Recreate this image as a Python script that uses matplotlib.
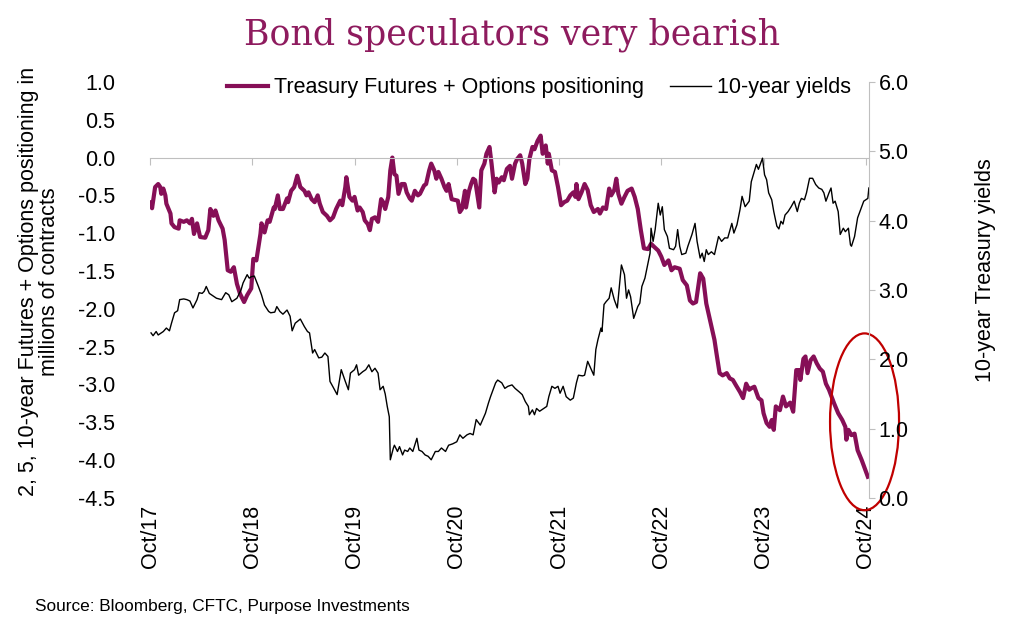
import matplotlib
matplotlib.use('Agg')
import matplotlib.pyplot as plt
import numpy as np
from matplotlib.patches import Ellipse

plt.rcParams['font.family'] = ['Liberation Sans', 'DejaVu Sans']
plt.rcParams['axes.unicode_minus'] = False

title = 'Bond speculators very bearish'
source = 'Source: Bloomberg, CFTC, Purpose Investments'
pos_name = 'Treasury Futures + Options positioning'
yld_name = '10-year yields'

# positioning, millions of contracts (time in decimal years)
pos_t = [2017.76, 2017.77, 2017.80, 2017.83, 2017.85, 2017.86, 2017.88, 2017.90, 2017.91, 2017.95,
         2017.96, 2017.99, 2018.03, 2018.04, 2018.08, 2018.11, 2018.14, 2018.16, 2018.18, 2018.21,
         2018.24, 2018.29, 2018.32, 2018.34, 2018.37, 2018.39, 2018.42, 2018.46, 2018.48, 2018.51,
         2018.54, 2018.57, 2018.60, 2018.63, 2018.67, 2018.70, 2018.74, 2018.76, 2018.79, 2018.83,
         2018.84, 2018.87, 2018.90, 2018.92, 2018.96, 2018.97, 2019.00, 2019.02, 2019.05, 2019.09,
         2019.10, 2019.13, 2019.16, 2019.19, 2019.22, 2019.26, 2019.28, 2019.30, 2019.33, 2019.36,
         2019.39, 2019.41, 2019.44, 2019.48, 2019.51, 2019.54, 2019.57, 2019.61, 2019.63, 2019.66,
         2019.67, 2019.70, 2019.73, 2019.75, 2019.78, 2019.80, 2019.83, 2019.85, 2019.88, 2019.90,
         2019.92, 2019.95, 2019.98, 2020.01, 2020.03, 2020.05, 2020.08, 2020.10, 2020.12, 2020.14,
         2020.16, 2020.18, 2020.21, 2020.24, 2020.26, 2020.29, 2020.31, 2020.34, 2020.37, 2020.39,
         2020.43, 2020.45, 2020.48, 2020.50, 2020.53, 2020.55, 2020.57, 2020.60, 2020.63, 2020.65,
         2020.67, 2020.70, 2020.73, 2020.76, 2020.78, 2020.80, 2020.83, 2020.84, 2020.87, 2020.89,
         2020.91, 2020.93, 2020.95, 2020.97, 2020.99, 2021.02, 2021.04, 2021.07, 2021.09, 2021.12,
         2021.14, 2021.16, 2021.19, 2021.21, 2021.24, 2021.27, 2021.29, 2021.32, 2021.34, 2021.37,
         2021.39, 2021.42, 2021.44, 2021.46, 2021.49, 2021.51, 2021.54, 2021.57, 2021.59, 2021.62,
         2021.64, 2021.65, 2021.68, 2021.71, 2021.74, 2021.77, 2021.80, 2021.83, 2021.86, 2021.89,
         2021.91, 2021.92, 2021.94, 2021.97, 2022.00, 2022.03, 2022.06, 2022.09, 2022.13, 2022.15,
         2022.18, 2022.21, 2022.24, 2022.26, 2022.29, 2022.31, 2022.33, 2022.36, 2022.39, 2022.42,
         2022.46, 2022.49, 2022.52, 2022.55, 2022.58, 2022.62, 2022.65, 2022.68, 2022.72, 2022.75,
         2022.78, 2022.82, 2022.85, 2022.88, 2022.93, 2022.96, 2023.00, 2023.03, 2023.06, 2023.09,
         2023.13, 2023.16, 2023.19, 2023.22, 2023.27, 2023.29, 2023.32, 2023.35, 2023.39, 2023.42,
         2023.45, 2023.48, 2023.52, 2023.55, 2023.58, 2023.61, 2023.63, 2023.66, 2023.70, 2023.73,
         2023.75, 2023.78, 2023.81, 2023.83, 2023.85, 2023.87, 2023.91, 2023.94, 2023.97, 2024.01,
         2024.04, 2024.07, 2024.10, 2024.11, 2024.14, 2024.16, 2024.18, 2024.21, 2024.24, 2024.27,
         2024.30, 2024.33, 2024.36, 2024.39, 2024.44, 2024.48, 2024.52, 2024.55, 2024.56, 2024.58,
         2024.61, 2024.64, 2024.67, 2024.71, 2024.74, 2024.77]
pos_v = [-0.59, -0.67, -0.39, -0.35, -0.39, -0.48, -0.41, -0.50, -0.61, -0.74,
         -0.87, -0.92, -0.94, -0.83, -0.85, -0.83, -0.87, -0.81, -1.01, -0.87,
         -1.05, -1.06, -0.96, -0.68, -0.77, -0.70, -0.83, -0.94, -1.09, -1.49,
         -1.51, -1.45, -1.67, -1.80, -1.91, -1.82, -1.73, -1.34, -1.36, -1.01,
         -0.87, -0.99, -0.83, -0.85, -0.66, -0.68, -0.50, -0.68, -0.68, -0.54,
         -0.59, -0.44, -0.39, -0.24, -0.39, -0.44, -0.50, -0.46, -0.55, -0.59,
         -0.50, -0.61, -0.72, -0.77, -0.83, -0.79, -0.68, -0.57, -0.63, -0.39,
         -0.26, -0.52, -0.57, -0.52, -0.70, -0.66, -0.72, -0.83, -0.88, -0.96,
         -0.81, -0.79, -0.85, -0.55, -0.59, -0.68, -0.52, -0.17, 0.00, -0.22,
         -0.24, -0.48, -0.35, -0.35, -0.46, -0.54, -0.57, -0.44, -0.50, -0.48,
         -0.37, -0.35, -0.17, -0.08, -0.17, -0.28, -0.19, -0.28, -0.39, -0.44,
         -0.35, -0.55, -0.56, -0.57, -0.72, -0.68, -0.44, -0.66, -0.44, -0.35,
         -0.28, -0.30, -0.48, -0.66, -0.17, -0.08, 0.05, 0.14, -0.08, -0.46,
         -0.28, -0.33, -0.26, -0.30, -0.15, -0.11, -0.28, -0.08, -0.02, 0.03,
         -0.08, -0.35, -0.28, -0.02, 0.14, 0.11, 0.22, 0.29, 0.05, 0.16,
         -0.08, 0.05, -0.17, -0.19, -0.39, -0.63, -0.59, -0.57, -0.50, -0.46,
         -0.52, -0.35, -0.55, -0.46, -0.35, -0.43, -0.63, -0.72, -0.68, -0.74,
         -0.66, -0.68, -0.41, -0.50, -0.43, -0.28, -0.48, -0.61, -0.52, -0.44,
         -0.41, -0.52, -0.68, -0.96, -1.20, -1.21, -1.14, -1.18, -1.23, -1.31,
         -1.42, -1.36, -1.49, -1.45, -1.47, -1.62, -1.69, -1.89, -1.93, -1.91,
         -1.53, -1.60, -1.93, -2.11, -2.41, -2.59, -2.85, -2.88, -2.85, -2.92,
         -2.94, -3.01, -3.10, -3.18, -2.99, -3.07, -3.05, -3.03, -3.18, -3.21,
         -3.38, -3.51, -3.56, -3.47, -3.60, -3.29, -3.34, -3.16, -3.29, -3.24,
         -3.36, -2.81, -2.81, -2.94, -2.66, -2.63, -2.85, -2.68, -2.63, -2.72,
         -2.79, -2.83, -2.99, -3.07, -3.25, -3.38, -3.47, -3.56, -3.73, -3.60,
         -3.67, -3.65, -3.87, -4.00, -4.11, -4.22]

# 10-year Treasury yield, %
yld_t = [2017.76, 2017.78, 2017.81, 2017.83, 2017.88, 2017.91, 2017.94, 2017.96, 2017.99, 2018.02,
         2018.04, 2018.08, 2018.11, 2018.14, 2018.17, 2018.21, 2018.23, 2018.26, 2018.28, 2018.30,
         2018.33, 2018.35, 2018.40, 2018.45, 2018.49, 2018.52, 2018.55, 2018.60, 2018.64, 2018.66,
         2018.70, 2018.72, 2018.74, 2018.77, 2018.81, 2018.84, 2018.87, 2018.91, 2018.93, 2018.97,
         2018.99, 2019.02, 2019.05, 2019.09, 2019.12, 2019.14, 2019.17, 2019.22, 2019.26, 2019.29,
         2019.31, 2019.34, 2019.36, 2019.40, 2019.43, 2019.46, 2019.49, 2019.51, 2019.54, 2019.58,
         2019.62, 2019.66, 2019.69, 2019.71, 2019.75, 2019.77, 2019.79, 2019.83, 2019.86, 2019.89,
         2019.92, 2019.95, 2019.98, 2020.00, 2020.03, 2020.05, 2020.07, 2020.09, 2020.10, 2020.13,
         2020.14, 2020.17, 2020.19, 2020.22, 2020.24, 2020.27, 2020.29, 2020.32, 2020.36, 2020.38,
         2020.41, 2020.44, 2020.47, 2020.50, 2020.54, 2020.57, 2020.60, 2020.64, 2020.67, 2020.71,
         2020.75, 2020.78, 2020.81, 2020.85, 2020.88, 2020.91, 2020.94, 2020.98, 2021.01, 2021.03,
         2021.06, 2021.08, 2021.11, 2021.13, 2021.15, 2021.19, 2021.22, 2021.25, 2021.29, 2021.32,
         2021.36, 2021.39, 2021.42, 2021.45, 2021.46, 2021.49, 2021.51, 2021.53, 2021.56, 2021.60,
         2021.63, 2021.65, 2021.68, 2021.71, 2021.74, 2021.76, 2021.79, 2021.82, 2021.86, 2021.89,
         2021.92, 2021.94, 2021.98, 2022.00, 2022.03, 2022.06, 2022.09, 2022.11, 2022.13, 2022.16,
         2022.17, 2022.19, 2022.21, 2022.24, 2022.26, 2022.29, 2022.32, 2022.34, 2022.36, 2022.39,
         2022.41, 2022.43, 2022.45, 2022.48, 2022.52, 2022.54, 2022.56, 2022.59, 2022.62, 2022.64,
         2022.65, 2022.67, 2022.69, 2022.72, 2022.74, 2022.76, 2022.78, 2022.81, 2022.83, 2022.87,
         2022.89, 2022.91, 2022.93, 2022.95, 2022.99, 2023.01, 2023.05, 2023.08, 2023.10, 2023.13,
         2023.15, 2023.17, 2023.19, 2023.21, 2023.24, 2023.27, 2023.31, 2023.34, 2023.37, 2023.40,
         2023.44, 2023.46, 2023.49, 2023.52, 2023.54, 2023.57, 2023.61, 2023.63, 2023.66, 2023.68,
         2023.70, 2023.74, 2023.76, 2023.78, 2023.80, 2023.83, 2023.85, 2023.88, 2023.90, 2023.92,
         2023.94, 2023.96, 2023.99, 2024.02, 2024.05, 2024.08, 2024.10, 2024.12, 2024.15, 2024.17,
         2024.20, 2024.23, 2024.26, 2024.29, 2024.32, 2024.34, 2024.36, 2024.39, 2024.41, 2024.43,
         2024.45, 2024.48, 2024.50, 2024.53, 2024.55, 2024.58, 2024.60, 2024.61, 2024.64, 2024.67,
         2024.70, 2024.73, 2024.77, 2024.78]
yld_v = [2.38, 2.34, 2.40, 2.35, 2.40, 2.45, 2.41, 2.52, 2.67, 2.70,
         2.86, 2.87, 2.86, 2.84, 2.74, 2.86, 2.96, 2.95, 2.98, 3.05,
         2.95, 2.93, 2.88, 2.86, 2.96, 2.93, 2.83, 2.88, 3.00, 3.10,
         3.22, 3.17, 3.19, 3.20, 3.05, 2.93, 2.78, 2.69, 2.67, 2.68,
         2.76, 2.69, 2.65, 2.71, 2.62, 2.41, 2.52, 2.58, 2.47, 2.40,
         2.38, 2.09, 2.14, 2.02, 2.03, 2.09, 2.04, 1.68, 1.60, 1.49,
         1.85, 1.68, 1.56, 1.80, 1.85, 1.92, 1.77, 1.82, 1.85, 1.92,
         1.82, 1.87, 1.80, 1.56, 1.61, 1.50, 1.32, 1.17, 0.55, 0.72,
         0.76, 0.67, 0.74, 0.62, 0.69, 0.67, 0.72, 0.67, 0.86, 0.69,
         0.67, 0.62, 0.60, 0.55, 0.67, 0.67, 0.72, 0.67, 0.76, 0.78,
         0.81, 0.91, 0.86, 0.91, 0.93, 0.91, 1.13, 1.05, 1.15, 1.22,
         1.37, 1.46, 1.58, 1.66, 1.70, 1.66, 1.58, 1.61, 1.63, 1.58,
         1.53, 1.49, 1.39, 1.32, 1.20, 1.27, 1.20, 1.29, 1.25, 1.29,
         1.32, 1.46, 1.61, 1.58, 1.61, 1.51, 1.61, 1.46, 1.41, 1.44,
         1.66, 1.77, 1.76, 1.77, 1.97, 1.87, 1.77, 2.14, 2.28, 2.45,
         2.40, 2.79, 2.83, 2.88, 3.03, 2.86, 2.74, 3.05, 3.36, 3.22,
         2.88, 3.00, 2.90, 2.59, 2.76, 2.81, 3.05, 3.17, 3.39, 3.53,
         3.89, 3.70, 3.87, 4.25, 4.08, 4.20, 3.87, 3.77, 3.60, 3.58,
         3.63, 3.87, 3.63, 3.51, 3.53, 3.63, 3.80, 3.96, 3.70, 3.46,
         3.53, 3.41, 3.58, 3.51, 3.55, 3.51, 3.77, 3.70, 3.75, 3.75,
         3.96, 3.82, 3.94, 4.16, 4.35, 4.20, 4.28, 4.56, 4.71, 4.81,
         4.74, 4.90, 4.66, 4.59, 4.40, 4.30, 4.13, 3.92, 3.88, 3.99,
         3.95, 4.08, 4.13, 4.20, 4.28, 4.13, 4.25, 4.32, 4.30, 4.40,
         4.61, 4.61, 4.52, 4.47, 4.45, 4.40, 4.28, 4.40, 4.47, 4.25,
         4.28, 4.13, 3.80, 3.89, 3.84, 3.89, 3.65, 3.63, 3.77, 4.04,
         4.16, 4.28, 4.32, 4.47]

tick_t = [2017.75, 2018.75, 2019.75, 2020.75, 2021.75, 2022.75, 2023.75, 2024.75]
tick_labels = ['Oct/17', 'Oct/18', 'Oct/19', 'Oct/20', 'Oct/21', 'Oct/22', 'Oct/23', 'Oct/24']

PURPLE = '#860F57'
GREY = '#BFBFBF'
FS = 15.5

fig = plt.figure(figsize=(10.24, 6.4), dpi=100)
ax = fig.add_axes([0.1465, 0.222, 0.702, 0.650])
ax2 = ax.twinx()

l1, = ax.plot(pos_t, pos_v, color=PURPLE, lw=3.0, label=pos_name, solid_joinstyle='round')
l2, = ax2.plot(yld_t, yld_v, color='black', lw=1.0, label=yld_name)

ax.set_xlim(2017.75, 2024.78)
ax.set_ylim(-4.5, 1.0)
ax.set_yticks(np.arange(-4.5, 1.01, 0.5))
ax.yaxis.set_major_formatter(matplotlib.ticker.FormatStrFormatter('%.1f'))
ax.tick_params(axis='y', length=0, pad=25, labelsize=FS)
for s in ['top', 'right', 'left']:
    ax.spines[s].set_visible(False)
ax.spines['bottom'].set_position(('data', 0))
ax.spines['bottom'].set_color(GREY)
ax.set_xticks(tick_t)
ax.tick_params(axis='x', direction='out', length=5, color=GREY, labelbottom=False)

sec = ax.secondary_xaxis('bottom')
sec.set_xticks(tick_t, tick_labels)
sec.tick_params(length=0, rotation=90, labelsize=FS, pad=5)
sec.spines['bottom'].set_visible(False)

ax2.set_ylim(0, 6)
ax2.set_yticks(np.arange(0, 6.01, 1.0))
ax2.yaxis.set_major_formatter(matplotlib.ticker.FormatStrFormatter('%.1f'))
for s in ['top', 'left', 'bottom']:
    ax2.spines[s].set_visible(False)
ax2.spines['right'].set_color(GREY)
ax2.tick_params(axis='y', direction='out', length=4, color=GREY, pad=3, labelsize=FS)

ax.set_ylabel('2, 5, 10-year Futures + Options positioning in\nmillions of contracts',
              fontsize=FS, linespacing=1.0)
ax.yaxis.set_label_coords(-0.125, 0.52)
ax2.set_ylabel('10-year Treasury yields', fontsize=FS)
ax2.yaxis.set_label_coords(1.147, 0.548)

ax2.legend(handles=[l1, l2], loc='center', bbox_to_anchor=(0.541, 0.986), ncol=2,
           frameon=False, fontsize=FS, handlelength=1.9, columnspacing=1.2,
           handletextpad=0.3, borderpad=0)

ax2.add_patch(Ellipse((0.994, 0.183), 0.096, 0.425, transform=ax2.transAxes,
                      fill=False, edgecolor='#C00000', lw=1.6, clip_on=False))

fig.text(0.5, 1 - 35 / 640, title, ha='center', va='center', fontsize=25,
         family=['DejaVu Serif'], color='#8E1B5E')
fig.text(35 / 1024, 1 - 607 / 640, source, ha='left', va='center', fontsize=12.4)

fig.savefig('out.png', dpi=100)
